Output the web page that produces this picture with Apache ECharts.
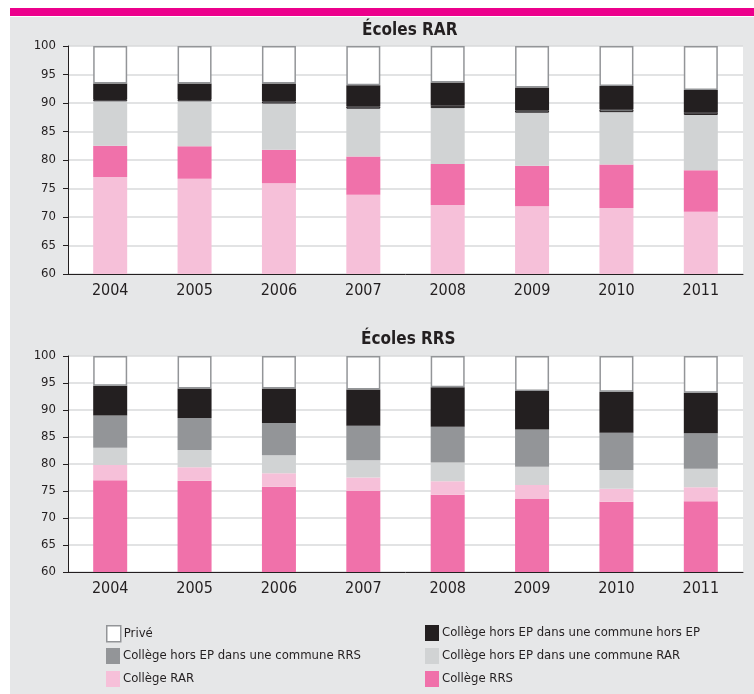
<!DOCTYPE html>
<html>
<head>
<meta charset="utf-8">
<script src="https://cdn.jsdelivr.net/npm/echarts@6/dist/echarts.min.js"></script>
<style>
  html, body { margin: 0; padding: 0; background: #ffffff; }
  .page { position: relative; width: 754px; height: 694px; overflow: hidden; }
  .page__strip { position: absolute; left: 10px; top: 8px; width: 744px; height: 8px; background: #ec008c; }
  .page__panel { position: absolute; left: 10px; top: 17px; width: 744px; height: 677px; background: #e6e7e8; }
  #chart { position: absolute; left: 0; top: 0; width: 754px; height: 694px; }
</style>
</head>
<body>
<div class="page">
  <div class="page__strip"></div>
  <div class="page__panel"></div>
  <div id="chart"></div>
</div>
<script>
const years = ['2004', '2005', '2006', '2007', '2008', '2009', '2010', '2011'];
const yTicks = { min: 60, max: 100, interval: 5 };

// Écoles RAR (segments, bottom to top)
const rarCollegeRar = [77.0, 76.7, 75.9, 73.9, 72.1, 71.9, 71.6, 70.9];
const rarCollegeRrs = [5.5, 5.7, 5.9, 6.7, 7.2, 7.1, 7.6, 7.3];
const rarHorsEpRar = [7.8, 7.9, 8.1, 8.4, 9.8, 9.3, 9.2, 9.7];
const rarHorsEpRrs = [0.4, 0.4, 0.4, 0.4, 0.4, 0.4, 0.5, 0.4];
const rarHorsEp = [2.7, 2.7, 3.1, 3.7, 4.1, 4.0, 4.1, 4.0];
const rarPrive = [6.6, 6.6, 6.6, 6.9, 6.4, 7.3, 7.0, 7.7];

// Écoles RRS (segments, bottom to top)
const rrsCollegeRrs = [77.0, 76.9, 75.8, 75.0, 74.3, 73.5, 73.0, 73.1];
const rrsCollegeRar = [2.8, 2.5, 2.5, 2.5, 2.5, 2.6, 2.4, 2.6];
const rrsHorsEpRar = [3.2, 3.2, 3.3, 3.2, 3.5, 3.4, 3.5, 3.4];
const rrsHorsEpRrs = [6.0, 5.9, 6.0, 6.4, 6.6, 6.9, 6.9, 6.6];
const rrsHorsEp = [5.5, 5.5, 6.4, 6.7, 7.3, 7.1, 7.6, 7.5];
const rrsPrive = [5.5, 6.0, 6.0, 6.2, 5.8, 6.5, 6.6, 6.8];

const names = {
  prive: 'Privé',
  horsEp: 'Collège hors EP dans une commune hors EP',
  horsEpRrs: 'Collège hors EP dans une commune RRS',
  horsEpRar: 'Collège hors EP dans une commune RAR',
  collegeRar: 'Collège RAR',
  collegeRrs: 'Collège RRS'
};

const colors = {
  prive: '#ffffff',
  horsEp: '#231f20',
  horsEpRrs: '#939598',
  horsEpRar: '#d1d3d4',
  collegeRar: '#f6c0d9',
  collegeRrs: '#f071aa'
};

const font = "'Liberation Sans Narrow', 'DejaVu Sans Condensed', sans-serif";
const ink = '#231f20';

function styleFor(key, thinBorder) {
  if (key === 'prive') {
    return { color: colors.prive, borderColor: '#939598', borderWidth: 1.5 };
  }
  if (thinBorder) {
    return { color: colors[key], borderColor: ink, borderWidth: 1 };
  }
  return { color: colors[key], borderWidth: 0 };
}

function barSeries(key, data, gridIndex, thinBorder) {
  return {
    type: 'bar',
    name: names[key],
    xAxisIndex: gridIndex,
    yAxisIndex: gridIndex,
    stack: 'total' + gridIndex,
    barWidth: 34,
    data: data,
    itemStyle: styleFor(key, thinBorder),
    emphasis: { disabled: true }
  };
}

function xAxis(gridIndex) {
  return {
    type: 'category',
    gridIndex: gridIndex,
    data: years,
    axisLine: { lineStyle: { color: ink, width: 1 } },
    axisTick: { length: 5, lineStyle: { color: ink } },
    axisLabel: { color: ink, fontFamily: font, fontSize: 16, margin: 9 }
  };
}

function yAxis(gridIndex) {
  return {
    type: 'value',
    gridIndex: gridIndex,
    min: yTicks.min,
    max: yTicks.max,
    interval: yTicks.interval,
    axisLine: { show: true, lineStyle: { color: ink, width: 1 } },
    axisTick: { show: true, length: 5, lineStyle: { color: ink } },
    axisLabel: { color: ink, fontFamily: font, fontSize: 13, margin: 12 },
    splitLine: { lineStyle: { color: '#d9dadb', width: 1.5 } }
  };
}

function legendAt(key, left, top) {
  return {
    left: left,
    top: top,
    padding: 0,
    itemWidth: 14,
    itemHeight: 16,
    itemGap: 0,
    selectedMode: false,
    textStyle: { color: ink, fontFamily: font, fontSize: 13, padding: [0, 0, 0, -2] },
    data: [{ name: names[key], icon: 'rect', itemStyle: styleFor(key, false) }]
  };
}

const chart = echarts.init(document.getElementById('chart'));

chart.setOption({
  animation: false,
  backgroundColor: 'transparent',
  title: [
    {
      text: 'Écoles RAR',
      left: 362,
      top: 22,
      padding: 0,
      textStyle: { color: ink, fontFamily: font, fontSize: 17, fontWeight: 'bold' }
    },
    {
      text: 'Écoles RRS',
      left: 361,
      top: 331,
      padding: 0,
      textStyle: { color: ink, fontFamily: font, fontSize: 17, fontWeight: 'bold' }
    }
  ],
  grid: [
    { left: 68, top: 46, width: 675, height: 228, show: true, backgroundColor: '#ffffff', borderWidth: 0 },
    { left: 68, top: 356, width: 675, height: 216, show: true, backgroundColor: '#ffffff', borderWidth: 0 }
  ],
  xAxis: [xAxis(0), xAxis(1)],
  yAxis: [yAxis(0), yAxis(1)],
  legend: [
    legendAt('prive', 106, 625),
    legendAt('horsEp', 425, 625),
    legendAt('horsEpRrs', 106, 648),
    legendAt('horsEpRar', 425, 648),
    legendAt('collegeRar', 106, 671),
    legendAt('collegeRrs', 425, 671)
  ],
  series: [
    barSeries('collegeRar', rarCollegeRar, 0),
    barSeries('collegeRrs', rarCollegeRrs, 0),
    barSeries('horsEpRar', rarHorsEpRar, 0),
    barSeries('horsEpRrs', rarHorsEpRrs, 0, true),
    barSeries('horsEp', rarHorsEp, 0),
    barSeries('prive', rarPrive, 0),

    barSeries('collegeRrs', rrsCollegeRrs, 1),
    barSeries('collegeRar', rrsCollegeRar, 1),
    barSeries('horsEpRar', rrsHorsEpRar, 1),
    barSeries('horsEpRrs', rrsHorsEpRrs, 1),
    barSeries('horsEp', rrsHorsEp, 1),
    barSeries('prive', rrsPrive, 1)
  ]
});

window.addEventListener('resize', () => chart.resize());
</script>
</body>
</html>
